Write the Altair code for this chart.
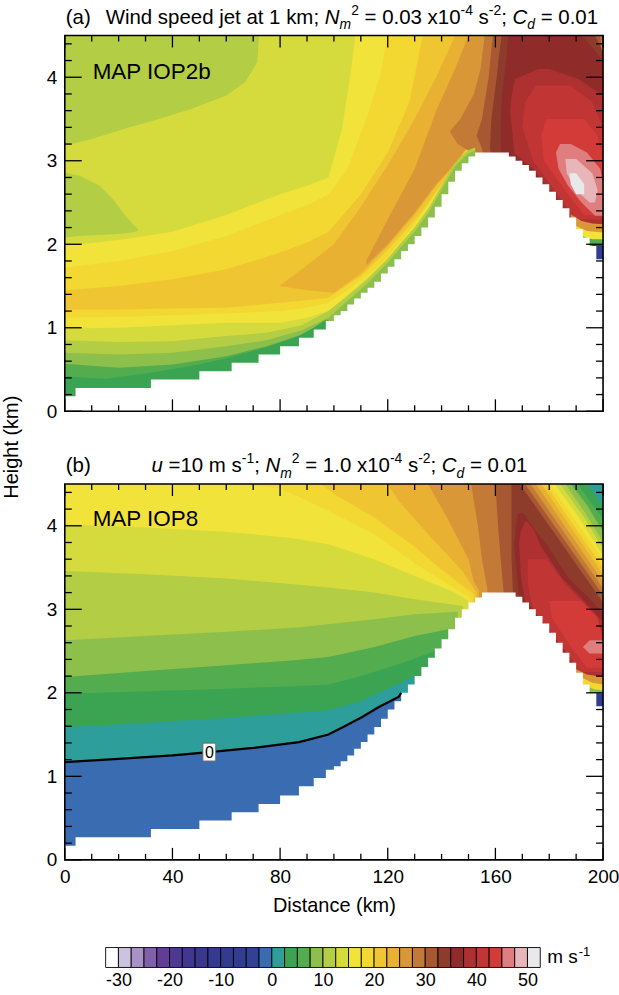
import altair as alt
import pandas as pd

W, H = 540, 377
FONT = "Liberation Sans"

# ---------------- colour scale (m s-1), 2.5 m s-1 bins ----------------
LEVELS = [-32.5, -30, -27.5, -25, -22.5, -20, -17.5, -15, -12.5, -10, -7.5, -5, -2.5,
          0, 2.5, 5, 7.5, 10, 12.5, 15, 17.5, 20, 22.5, 25, 27.5, 30, 32.5, 35, 37.5,
          40, 42.5, 45, 47.5, 50, 52.5]
PALETTE = ["#ffffff", "#cbc3df", "#a992c6", "#8160aa", "#623d97", "#4d3892", "#413790",
           "#39378e", "#35398f", "#333b90", "#323d92", "#324195", "#3a6cb2", "#2e9e9a",
           "#3aa453", "#53ad4f", "#8dbf4d", "#b3cd45", "#d6db3d", "#f1e33a", "#f3d832",
           "#efc632", "#e8b132", "#d99738", "#c27a36", "#a75731", "#8d3b2a", "#8f2c2a",
           "#ae3030", "#c23535", "#d33b39", "#de7e7f", "#e8b5b8", "#e9e9ec"]
CB_TICKS = [-30, -20, -10, 0, 10, 20, 30, 40, 50]

X_MAJOR = [0, 40, 80, 120, 160, 200]
X_MINOR = [10, 20, 30, 50, 60, 70, 90, 100, 110, 130, 140, 150, 170, 180, 190]
Y_MAJOR = [0, 1, 2, 3, 4]
Y_MINOR = [0.2, 0.4, 0.6, 0.8, 1.2, 1.4, 1.6, 1.8, 2.2, 2.4, 2.6, 2.8, 3.2, 3.4, 3.6, 3.8, 4.2, 4.4]

# ---------------- terrain (step heights, km) ----------------
TERR_X = [0, 4, 32, 50, 62, 72, 80, 87, 92.5, 97, 100, 102.5, 105, 107.5, 110, 112.5, 115,
          117.5, 120, 122.5, 125, 127.5, 130, 132.5, 135, 137.5, 140, 142.5, 145, 147.5, 150,
          152.5]
TERR_A_H = [0.18, 0.28, 0.38, 0.48, 0.58, 0.68, 0.78, 0.88, 0.98, 1.08, 1.15, 1.2, 1.28, 1.35,
            1.42, 1.48, 1.55, 1.65, 1.73, 1.82, 1.92, 2.0, 2.1, 2.2, 2.32, 2.45, 2.6, 2.75,
            2.88, 2.97, 3.05, 3.1]
TERR_A_LEE_X = [165, 167.5, 170, 172.5, 175, 177.5, 180, 182.5, 185, 187.5, 190, 192.5, 195, 197.5, 200]
TERR_A_LEE_H = [3.05, 3.0, 2.95, 2.88, 2.8, 2.72, 2.63, 2.53, 2.43, 2.32, 2.18, 2.08, 1.98, 1.82, 1.82]
TERR_B_H = [0.17, 0.27, 0.37, 0.47, 0.57, 0.67, 0.77, 0.88, 0.98, 1.08, 1.12, 1.18, 1.25, 1.33,
            1.41, 1.5, 1.59, 1.69, 1.8, 1.9, 2.0, 2.1, 2.2, 2.31, 2.42, 2.53, 2.64, 2.76, 2.9,
            3.0, 3.08, 3.14]
TERR_B_LEE_X = [155, 167.5, 170, 172.5, 175, 177.5, 180, 182.5, 185, 187.5, 190, 192.5, 195, 197.5, 200]
TERR_B_LEE_H = [3.2, 3.15, 3.08, 3.0, 2.92, 2.83, 2.72, 2.6, 2.48, 2.36, 2.24, 2.1, 2.0, 1.84, 1.84]

# ---------------- panel (a) speed bands ----------------
# vertical regions: (x km, lower km, upper km); horizontal regions: (height km, left km, right km)
A_GE19 = [(0, 0.99, 1.98), (20, 1.0, 2.05), (40, 1.03, 2.15), (60, 1.06, 2.35), (80, 1.06, 2.6),
          (90, 1.12, 2.7), (98, 1.2, 2.8), (103, 1.33, 3.38), (106, 1.42, 4.0), (108, 1.47, 4.5),
          (120, 1.82, 4.5), (130, 2.2, 4.5), (140, 2.67, 4.5), (150, 3.12, 4.5), (165, 3.15, 4.5),
          (180, 2.7, 4.5), (190, 2.3, 4.5), (200, 2.2, 4.5)]
A_GE20 = [(0, 1.12, 1.72), (20, 1.13, 1.8), (40, 1.15, 1.92), (60, 1.17, 2.1), (80, 1.2, 2.35),
          (90, 1.24, 2.47), (98, 1.3, 2.6), (105, 1.45, 2.9), (112, 1.62, 3.5), (117, 1.75, 4.0),
          (120, 1.85, 4.5), (130, 2.24, 4.5), (140, 2.7, 4.5), (150, 3.14, 4.5), (165, 3.18, 4.5),
          (180, 2.72, 4.5), (190, 2.35, 4.5), (200, 2.22, 4.5)]
A_GE21 = [(0, 1.22, 1.45), (20, 1.22, 1.5), (40, 1.23, 1.58), (60, 1.24, 1.7), (80, 1.3, 1.9),
          (90, 1.33, 2.02), (98, 1.36, 2.15), (110, 1.62, 2.6), (120, 1.93, 3.1), (128, 2.22, 3.7),
          (133, 2.4, 4.5), (140, 2.72, 4.5), (150, 3.15, 4.5), (165, 3.2, 4.5), (180, 2.74, 4.5),
          (190, 2.38, 4.5), (200, 2.24, 4.5)]
A_GE22 = [(79.6, 1.5, 1.5), (90, 1.45, 1.75), (100, 1.42, 2.0), (110, 1.65, 2.45), (120, 1.98, 2.95),
          (130, 2.35, 3.5), (138, 2.7, 4.0), (145, 2.95, 4.5), (150, 3.18, 4.5), (165, 3.22, 4.5),
          (180, 2.76, 4.5), (190, 2.4, 4.5), (200, 2.26, 4.5)]
A_GE23 = [(112, 1.75, 1.8), (120, 2.0, 2.3), (130, 2.38, 2.9), (138, 2.72, 3.6), (145, 2.97, 4.1),
          (150, 3.18, 4.5), (165, 3.22, 4.5), (180, 2.78, 4.5), (190, 2.42, 4.5), (200, 2.28, 4.5)]
A_GE24 = [(1.9, 160, 200), (3.1, 151, 200), (3.2, 146, 200), (3.35, 143, 200), (3.5, 147, 200),
          (3.8, 152, 200), (4.1, 154.5, 200), (4.5, 156, 200)]
A_GE25 = [(1.9, 162, 200), (3.15, 155, 200), (3.3, 153, 200), (3.5, 155, 200), (4.0, 157.5, 200),
          (4.5, 159, 199)]
A_GE26 = [(1.9, 164, 200), (3.15, 158, 200), (3.5, 158.5, 200), (4.0, 160.5, 200), (4.3, 161.5, 200),
          (4.5, 162.3, 197)]
A_GE27 = [(1.9, 166, 200), (3.15, 162, 200), (3.5, 162, 200), (3.8, 162.5, 200), (4.2, 164, 200),
          (4.5, 164.8, 192)]
A_GE28 = [(2.15, 192, 200), (2.5, 184, 200), (2.9, 174, 200), (3.1, 167, 200), (3.6, 165.5, 200),
          (3.78, 166, 200), (3.98, 167.3, 190.7), (4.1, 176, 180)]
A_GE29 = [(2.3, 190, 200), (2.6, 183, 200), (3.0, 174, 200), (3.4, 170, 200), (3.7, 171, 196),
          (3.9, 175, 188)]
A_GE30 = [(2.35, 193, 200), (2.6, 187, 200), (3.0, 178, 200), (3.3, 177, 198), (3.5, 179, 193)]
A_GE31 = [(2.34, 197, 200), (2.5, 192, 200), (2.7, 187, 200), (2.9, 183.5, 199), (3.1, 182.5, 194),
          (3.2, 184, 188)]
A_GE32 = [(2.5, 195, 197), (2.65, 190, 198), (2.85, 186.5, 196), (3.02, 186, 190)]
A_GE33 = [(2.6, 190, 193), (2.72, 188, 193), (2.85, 187.5, 190)]
A_TOPLEFT = [(0, 3.18, 4.5), (10, 3.26, 4.5), (22, 3.38, 4.5), (35, 3.5, 4.5), (47, 3.62, 4.5),
             (60, 3.78, 4.5), (67, 3.94, 4.5), (71.5, 4.18, 4.5), (72.2, 4.5, 4.5)]
A_TONGUE = [(0, 2.08, 2.86), (5.5, 2.1, 2.82), (13, 2.11, 2.7), (17.9, 2.12, 2.54), (21.6, 2.13, 2.38),
            (24.7, 2.14, 2.26), (27.2, 2.16, 2.18)]
A_LE17 = [(0, 0, 0.85), (20, 0, 0.83), (40, 0, 0.84), (60, 0, 0.9), (75, 0, 0.94), (88, 0, 1.03),
          (98, 0, 1.2), (105, 0, 1.38), (112.5, 0, 1.58), (120, 0, 1.83), (125, 0, 2.02), (130, 0, 2.2),
          (135, 0, 2.42), (140, 0, 2.7), (145, 0, 2.98), (150, 0, 3.13), (152.5, 0, 3.16)]
A_LE16 = [(0, 0, 0.7), (20, 0, 0.68), (40, 0, 0.7), (60, 0, 0.78), (75, 0, 0.85), (88, 0, 0.97),
          (98, 0, 1.12), (105, 0, 1.32), (112.5, 0, 1.53), (120, 0, 1.78), (125, 0, 1.97), (130, 0, 2.15),
          (135, 0, 2.37), (140, 0, 2.65), (145, 0, 2.93), (150, 0, 3.09), (152.5, 0, 3.12)]
A_LE15 = [(0, 0, 0.57), (20, 0, 0.52), (40, 0, 0.56), (60, 0, 0.66), (75, 0, 0.78), (88, 0, 0.92),
          (98, 0, 1.1)]
A_LE14 = [(0, 0, 0.42), (15, 0, 0.39), (32, 0, 0.46), (50, 0, 0.56), (62, 0, 0.65), (72, 0, 0.74),
          (80, 0, 0.82), (87, 0, 0.9), (92.5, 0, 1.0), (97, 0, 1.1)]
A_LEE23 = [(188, 1.5, 2.36), (192, 1.5, 2.28), (196, 1.5, 2.25), (200, 1.5, 2.24)]
A_LEE19 = [(190, 1.5, 2.22), (194, 1.5, 2.16), (200, 1.5, 2.14)]
A_LEE15 = [(192, 1.5, 2.1), (196, 1.5, 2.06), (200, 1.5, 2.06)]
A_LEE10 = [(196, 1.5, 1.99), (200, 1.5, 1.99)]

A_LAYERS = [("v", 19, A_GE19), ("v", 20, A_GE20), ("v", 21, A_GE21), ("v", 22, A_GE22),
            ("v", 23, A_GE23), ("h", 24, A_GE24), ("h", 25, A_GE25), ("h", 26, A_GE26),
            ("h", 27, A_GE27), ("h", 28, A_GE28), ("h", 29, A_GE29), ("h", 30, A_GE30),
            ("h", 31, A_GE31), ("h", 32, A_GE32), ("h", 33, A_GE33), ("v", 17, A_TOPLEFT),
            ("v", 17, A_TONGUE), ("v", 17, A_LE17), ("v", 16, A_LE16), ("v", 15, A_LE15),
            ("v", 14, A_LE14), ("v", 23, A_LEE23), ("v", 19, A_LEE19), ("v", 15, A_LEE15),
            ("v", 10, A_LEE10)]

# ---------------- panel (b) speed bands ----------------
B_GE20 = [(1.9, 150, 200), (3.12, 151, 200), (3.25, 145, 200), (3.55, 130, 200), (3.6, 128, 200),
          (3.9, 115, 193.3), (4.18, 98, 187.1), (4.45, 80, 181.1), (4.5, 65, 180)]
B_GE21 = [(1.9, 150, 200), (3.18, 152, 200), (3.35, 145, 200), (3.5, 139, 200), (3.75, 130, 194.6),
          (4.1, 115, 187.1), (4.38, 100, 181.1), (4.5, 95, 178.5)]
B_GE22 = [(1.9, 150, 200), (3.2, 153, 200), (3.42, 148.5, 200), (3.45, 148, 199.4), (3.9, 135, 189.8),
          (4.3, 124, 181.3), (4.5, 120, 177)]
B_GE23 = [(1.9, 150, 200), (3.22, 154, 200), (3.33, 152, 200), (3.6, 150, 194.3), (4.1, 142, 183.6),
          (4.5, 135, 175)]
B_GE24 = [(1.9, 152, 200), (3.22, 157, 200), (3.25, 157, 200), (3.6, 155, 192.4), (4.0, 153.5, 183.8),
          (4.5, 151, 173)]
B_GE25 = [(1.9, 155, 200), (3.17, 163, 200), (3.22, 163, 198.9), (3.6, 162, 190.6), (4.0, 161, 181.9),
          (4.5, 160, 171)]
B_GE26 = [(1.9, 158, 200), (3.08, 166.5, 200), (3.22, 166.5, 197), (3.6, 166, 188.7), (4.0, 166, 180),
          (4.5, 166, 169)]
B_GE27 = [(2.0, 185, 200), (2.95, 170, 200), (3.1, 168.8, 196), (3.38, 168, 187), (3.78, 167, 179),
          (3.98, 167.5, 174), (4.15, 168.5, 170.5)]
B_GE28 = [(2.1, 193, 200), (2.5, 186, 200), (2.85, 178, 200), (3.1, 171, 193), (3.38, 169.5, 184.6),
          (3.78, 168.8, 176.5), (3.94, 169.5, 174.5), (4.05, 171, 172)]
B_GE29 = [(2.25, 192, 200), (2.7, 181, 200), (3.0, 174, 195), (3.3, 172, 186), (3.6, 172, 179)]
B_GE30 = [(2.3, 194, 200), (2.6, 187, 200), (2.9, 181, 198), (3.1, 180, 192)]
B_GE31 = [(2.47, 195, 200), (2.55, 192.5, 200), (2.63, 195, 200)]
B_TR18 = [(3.64, 200, 200), (4.1, 191, 200), (4.5, 182, 200)]
B_TR17 = [(3.72, 200, 200), (4.1, 193, 200), (4.5, 184, 200)]
B_TR16 = [(3.8, 200, 200), (4.15, 193.5, 200), (4.5, 186, 200)]
B_TR15 = [(3.93, 200, 200), (4.25, 194, 200), (4.5, 188, 200)]
B_TR14 = [(4.08, 200, 200), (4.3, 195, 200), (4.5, 190.5, 200)]
B_TR13 = [(4.22, 200, 200), (4.38, 197, 200), (4.5, 194, 200)]
B_LE18 = [(0, 0, 4.02), (30, 0, 3.98), (60, 0, 3.93), (85, 0, 3.85), (98, 0, 3.78), (115, 0, 3.6),
          (130, 0, 3.4), (145, 0, 3.2), (150, 0, 3.1)]
B_LE17 = [(0, 0, 3.46), (30, 0, 3.42), (60, 0, 3.37), (85, 0, 3.3), (98, 0, 3.26), (115, 0, 3.2),
          (130, 0, 3.12), (148, 0, 3.04)]
B_LE16 = [(0, 0, 2.63), (30, 0, 2.68), (60, 0, 2.73), (85, 0, 2.78), (98, 0, 2.82), (115, 0, 2.88),
          (130, 0, 2.94), (146, 0, 2.97)]
B_LE15 = [(0, 0, 2.19), (30, 0, 2.26), (60, 0, 2.33), (85, 0, 2.39), (98, 0, 2.43), (115, 0, 2.55),
          (130, 0, 2.68), (142.5, 0, 2.76)]
B_LE14 = [(0, 0, 1.99), (30, 0, 2.02), (60, 0, 2.05), (85, 0, 2.08), (98, 0, 2.1), (110, 0, 2.2),
          (125, 0, 2.35), (137.5, 0, 2.5)]
B_LE13 = [(0, 0, 1.59), (30, 0, 1.64), (60, 0, 1.7), (85, 0, 1.76), (98, 0, 1.79), (110, 0, 1.9),
          (120, 0, 2.05), (130, 0, 2.2)]
B_ZERO = [(0, 1.17), (20, 1.21), (40, 1.25), (53.7, 1.29), (70, 1.34), (87, 1.41), (98, 1.5),
          (104, 1.6), (110.5, 1.71), (116.7, 1.83), (124, 1.95), (125, 2.0)]
B_LE12 = [(x, 0, h) for x, h in B_ZERO]
B_LEE23 = [(189, 1.5, 2.3), (194, 1.5, 2.22), (200, 1.5, 2.19)]
B_LEE20 = [(191, 1.5, 2.2), (196, 1.5, 2.12), (200, 1.5, 2.1)]
B_LEE16 = [(193, 1.5, 2.09), (197, 1.5, 2.04), (200, 1.5, 2.03)]
B_LEE10 = [(196, 1.5, 2.0), (200, 1.5, 1.99)]
B_ZERO_LABEL = [(53.7, 1.29, "0")]

B_LAYERS = [("h", 20, B_GE20), ("h", 21, B_GE21), ("h", 22, B_GE22), ("h", 23, B_GE23),
            ("h", 24, B_GE24), ("h", 25, B_GE25), ("h", 26, B_GE26), ("h", 27, B_GE27),
            ("h", 28, B_GE28), ("h", 29, B_GE29), ("h", 30, B_GE30), ("h", 31, B_GE31),
            ("h", 18, B_TR18), ("h", 17, B_TR17), ("h", 16, B_TR16), ("h", 15, B_TR15),
            ("h", 14, B_TR14), ("h", 13, B_TR13),
            ("v", 18, B_LE18), ("v", 17, B_LE17), ("v", 16, B_LE16), ("v", 15, B_LE15),
            ("v", 14, B_LE14), ("v", 13, B_LE13), ("v", 12, B_LE12),
            ("v", 23, B_LEE23), ("v", 20, B_LEE20), ("v", 16, B_LEE16), ("v", 10, B_LEE10)]

# ---------------- helpers ----------------
XS = alt.Scale(domain=[0, 200], nice=False, zero=False)
YS = alt.Scale(domain=[0, 4.5], nice=False, zero=False)
YAX = alt.Axis(values=Y_MAJOR, ticks=False, domain=False, grid=False, title=None,
               labelFontSize=19, labelPadding=8, labelFont=FONT, labelColor="black")
XAX_B = alt.Axis(values=X_MAJOR, ticks=False, domain=False, grid=False, title="Distance (km)",
                 labelFontSize=19, labelPadding=8, labelFont=FONT, labelColor="black",
                 titleFontSize=20, titleFont=FONT, titleFontWeight="normal", titlePadding=9,
                 titleColor="black", labelFlush=False)
DUMMY = pd.DataFrame({"d": [0]})

AW = {' ': 278, '(': 333, ')': 333, 'a': 556, 'b': 556, 'W': 944, 'i': 222, 'n': 556, 'd': 556,
      's': 500, 'p': 556, 'e': 556, 'j': 222, 't': 278, 'k': 500, 'm': 833, ';': 278, 'N': 722,
      '=': 584, '.': 278, 'x': 500, '-': 333, 'C': 722, 'u': 556}


def tw(s, size):
    return sum(AW.get(c, 556) for c in s) * size / 1000.0


def area_layer(kind, level, rows, xax):
    col = PALETTE[level]
    if kind == "v":
        df = pd.DataFrame(rows, columns=["x", "lo", "hi"])
        return alt.Chart(df).mark_area(color=col, orient="vertical", clip=True).encode(
            x=alt.X("x:Q", scale=XS, axis=xax), y=alt.Y("lo:Q", scale=YS, axis=YAX),
            y2=alt.Y2("hi:Q"))
    df = pd.DataFrame(rows, columns=["y", "xl", "xr"])
    return alt.Chart(df).mark_area(color=col, orient="horizontal", clip=True).encode(
        y=alt.Y("y:Q", scale=YS, axis=YAX), x=alt.X("xl:Q", scale=XS, axis=xax),
        x2=alt.X2("xr:Q"))


def terrain_layer(xs, hs, xax):
    df = pd.DataFrame({"x": xs, "h": hs, "z": [0] * len(xs)})
    return alt.Chart(df).mark_area(color="white", interpolate="step-after", clip=True).encode(
        x=alt.X("x:Q", scale=XS, axis=xax), y=alt.Y("h:Q", scale=YS, axis=YAX), y2=alt.Y2("z:Q"))


def tick_layers(xax):
    out = []
    specs = [(Y_MAJOR, 17, "y"), (Y_MINOR, 7, "y"), (X_MAJOR, 12, "x"), (X_MINOR, 6, "x")]
    for vals, ln, axis in specs:
        df = pd.DataFrame({"v": vals})
        base = alt.Chart(df).mark_rule(color="black", strokeWidth=1.3)
        if axis == "y":
            out.append(base.encode(y=alt.Y("v:Q", scale=YS, axis=YAX), x=alt.value(0), x2=alt.value(ln)))
            out.append(base.encode(y=alt.Y("v:Q", scale=YS, axis=YAX), x=alt.value(W), x2=alt.value(W - ln)))
        else:
            out.append(base.encode(x=alt.X("v:Q", scale=XS, axis=xax), y=alt.value(H), y2=alt.value(H - ln)))
            out.append(base.encode(x=alt.X("v:Q", scale=XS, axis=xax), y=alt.value(0), y2=alt.value(ln)))
    return out


def text_seq(segments, x0, base_y, size):
    """segments: (text, italic, kind) with kind 'b' base, 'sub', 'sup'."""
    out = []
    x = x0
    for txt, ital, kind in segments:
        if kind == "b":
            fs, yy = size, base_y
        elif kind == "sub":
            fs, yy = size * 0.68, base_y + size * 0.28
        else:
            fs, yy = size * 0.68, base_y - size * 0.42
        core = txt.strip(" ")
        lead = len(txt) - len(txt.lstrip(" "))
        props = dict(text=core, align="left", baseline="alphabetic", fontSize=fs, font=FONT, color="black")
        if ital:
            props["fontStyle"] = "italic"
        if core:
            out.append(alt.Chart(DUMMY).mark_text(**props).encode(
                x=alt.value(x + lead * 0.278 * fs), y=alt.value(yy)))
        x += tw(txt, fs)
    return out


def frame_layer(xax):
    df = pd.DataFrame({"x0": [0], "x1": [200], "y0": [0], "y1": [4.5]})
    return alt.Chart(df).mark_rect(filled=False, stroke="black", strokeWidth=1.6).encode(
        x=alt.X("x0:Q", scale=XS, axis=xax), x2="x1:Q", y=alt.Y("y0:Q", scale=YS, axis=YAX), y2="y1:Q")


def background_layer(level, xax):
    df = pd.DataFrame({"x0": [0], "x1": [200], "y0": [0], "y1": [4.5]})
    return alt.Chart(df).mark_rect(color=PALETTE[level]).encode(
        x=alt.X("x0:Q", scale=XS, axis=xax), x2="x1:Q", y=alt.Y("y0:Q", scale=YS, axis=YAX), y2="y1:Q")


def bounds_rect(y_top):
    # invisible white strip fixing the outer extent of the figure
    return alt.Chart(DUMMY).mark_rect(color="white").encode(
        x=alt.value(-65), x2=alt.value(554), y=alt.value(y_top), y2=alt.value(y_top + 1))


TSIZE = 20.5
TITLE_A = [("Wind speed jet at 1 km; ", False, "b"), ("N", True, "b"), ("m", True, "sub"),
           ("2", False, "sup"), (" = 0.03 x10", False, "b"), ("-4", False, "sup"), (" s", False, "b"),
           ("-2", False, "sup"), ("; ", False, "b"), ("C", True, "b"), ("d", True, "sub"),
           (" = 0.01", False, "b")]
TITLE_B = [("u", True, "b"), (" =10 m s", False, "b"), ("-1", False, "sup"), ("; ", False, "b"),
           ("N", True, "b"), ("m", True, "sub"), ("2", False, "sup"), (" = 1.0 x10", False, "b"),
           ("-4", False, "sup"), (" s", False, "b"), ("-2", False, "sup"), ("; ", False, "b"),
           ("C", True, "b"), ("d", True, "sub"), (" = 0.01", False, "b")]

# ---------------- panel (a) ----------------
layers_a = [bounds_rect(-34), background_layer(18, None)]
layers_a += [area_layer(k, lv, rows, None) for k, lv, rows in A_LAYERS]
layers_a.append(terrain_layer(TERR_X + TERR_A_LEE_X, TERR_A_H + TERR_A_LEE_H, None))
layers_a += tick_layers(None)
layers_a.append(frame_layer(None))
layers_a.append(alt.Chart(DUMMY).mark_text(text="MAP IOP2b", align="left", baseline="alphabetic",
                                           fontSize=22.5, font=FONT, color="black").encode(
    x=alt.value(28), y=alt.value(44)))
layers_a.append(alt.Chart(DUMMY).mark_text(text="(a)", align="left", baseline="alphabetic",
                                           fontSize=20.5, font=FONT, color="black").encode(
    x=alt.value(1), y=alt.value(-12)))
layers_a += text_seq(TITLE_A, 41, -12, TSIZE)
layers_a.append(alt.Chart(DUMMY).mark_text(text="Height (km)", angle=270, align="center",
                                           baseline="middle", fontSize=20, font=FONT,
                                           color="black").encode(x=alt.value(-53), y=alt.value(413)))
panel_a = alt.layer(*layers_a).properties(width=W, height=H)

# ---------------- panel (b) ----------------
layers_b = [background_layer(19, XAX_B)]
layers_b += [area_layer(k, lv, rows, XAX_B) for k, lv, rows in B_LAYERS]
layers_b.append(terrain_layer(TERR_X + TERR_B_LEE_X, TERR_B_H + TERR_B_LEE_H, XAX_B))
zdf = pd.DataFrame(B_ZERO, columns=["x", "h"])
layers_b.append(alt.Chart(zdf).mark_line(color="black", strokeWidth=2.2, clip=True).encode(
    x=alt.X("x:Q", scale=XS, axis=XAX_B), y=alt.Y("h:Q", scale=YS, axis=YAX)))
ldf = pd.DataFrame(B_ZERO_LABEL, columns=["x", "h", "t"])
layers_b.append(alt.Chart(ldf).mark_rect(width=13, height=18, fill="white", stroke="#666",
                                         strokeWidth=1).encode(
    x=alt.X("x:Q", scale=XS, axis=XAX_B), y=alt.Y("h:Q", scale=YS, axis=YAX)))
layers_b.append(alt.Chart(ldf).mark_text(fontSize=16, font=FONT, color="black", baseline="middle",
                                         dy=1).encode(
    x=alt.X("x:Q", scale=XS, axis=XAX_B), y=alt.Y("h:Q", scale=YS, axis=YAX), text="t:N"))
layers_b += tick_layers(XAX_B)
layers_b.append(frame_layer(XAX_B))
layers_b.append(alt.Chart(DUMMY).mark_text(text="MAP IOP8", align="left", baseline="alphabetic",
                                           fontSize=22.5, font=FONT, color="black").encode(
    x=alt.value(28), y=alt.value(42)))
layers_b.append(alt.Chart(DUMMY).mark_text(text="(b)", align="left", baseline="alphabetic",
                                           fontSize=20.5, font=FONT, color="black").encode(
    x=alt.value(1), y=alt.value(-12)))
layers_b += text_seq(TITLE_B, 87, -12, TSIZE)
panel_b = alt.layer(*layers_b).properties(width=W, height=H)

# ---------------- colour bar ----------------
cb_df = pd.DataFrame({"lo": LEVELS[:-1], "hi": LEVELS[1:], "c": PALETTE,
                      "y0": [0] * len(PALETTE), "y1": [20] * len(PALETTE)})
CBX = alt.Scale(domain=[-40.49, 64.78], nice=False, zero=False)
CBY = alt.Scale(domain=[0, 35], nice=False, zero=False)
cb_rect = alt.Chart(cb_df).mark_rect(stroke="black", strokeWidth=0.9).encode(
    x=alt.X("lo:Q", scale=CBX, axis=alt.Axis(values=CB_TICKS, ticks=False, domain=False, grid=False,
                                              title=None, labelFontSize=18, labelPadding=4,
                                              labelFont=FONT, labelColor="black",
                                              labelExpr="'' + datum.value")),
    x2="hi:Q",
    y=alt.Y("y0:Q", scale=CBY, axis=None), y2="y1:Q",
    color=alt.Color("c:N", scale=None))
cb_unit1 = alt.Chart(DUMMY).mark_text(text="m s", align="left", baseline="alphabetic", fontSize=19,
                                      font=FONT, color="black").encode(x=alt.value(484), y=alt.value(31))
cb_unit2 = alt.Chart(DUMMY).mark_text(text="-1", align="left", baseline="alphabetic", fontSize=13,
                                      font=FONT, color="black").encode(x=alt.value(484 + tw("m s", 19) + 1),
                                                                       y=alt.value(23))
cbar = alt.layer(bounds_rect(60), cb_rect, cb_unit1, cb_unit2).properties(width=W, height=35)

chart = alt.vconcat(panel_a, panel_b, cbar, spacing=73, bounds="flush").properties(
    padding=0,
    background="white",
).configure(font=FONT, view=alt.ViewConfig(strokeWidth=0, stroke="transparent"))

chart.save("out.html", embed_options={"renderer": "svg", "actions": False})
